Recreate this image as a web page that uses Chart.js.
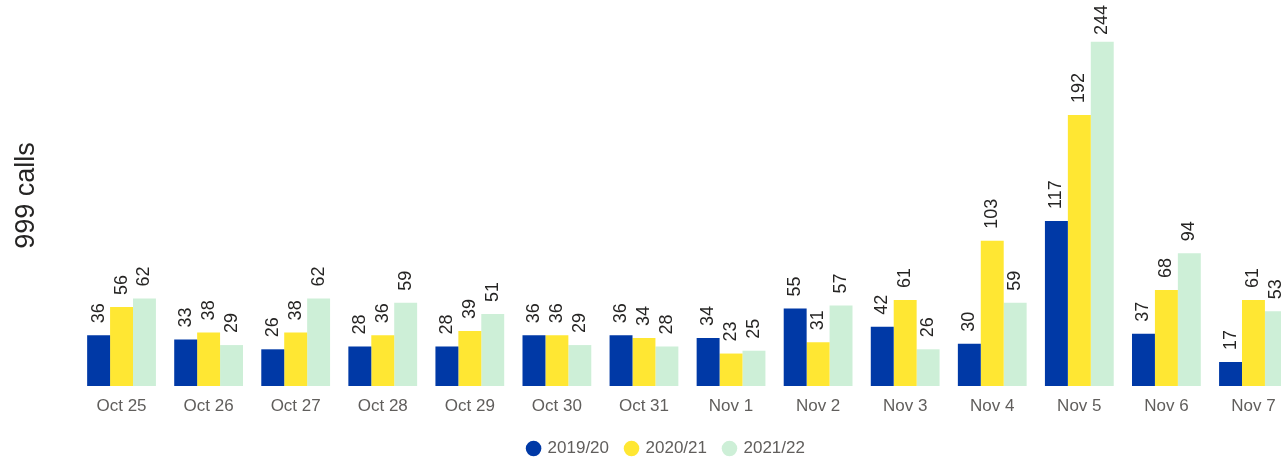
<!DOCTYPE html>
<html>
<head>
<meta charset="utf-8">
<script src="https://cdn.jsdelivr.net/npm/chart.js@4/dist/chart.umd.min.js"></script>
<style>
  html, body { margin: 0; padding: 0; background: #fff; overflow: hidden; }
  .wrap { position: relative; width: 1330px; height: 467px; }
</style>
</head>
<body>
<div class="wrap"><canvas class="graph"></canvas></div>
<script>
let days = ["Oct 25", "Oct 26", "Oct 27", "Oct 28", "Oct 29", "Oct 30", "Oct 31",
  "Nov 1", "Nov 2", "Nov 3", "Nov 4", "Nov 5", "Nov 6", "Nov 7"];
let calls1920 = [36, 33, 26, 28, 28, 36, 36, 34, 55, 42, 30, 117, 37, 17];
let calls2021 = [56, 38, 38, 36, 39, 36, 34, 23, 31, 61, 103, 192, 68, 61];
let calls2122 = [62, 29, 62, 59, 51, 29, 28, 25, 57, 26, 59, 244, 94, 53];

const font = "Arial, 'Liberation Sans', sans-serif";

// values written above each bar, turned on their side
const barLabels = {
  id: "barLabels",
  afterDatasetsDraw(chart) {
    const ctx = chart.ctx;
    ctx.save();
    ctx.font = "18px " + font;
    ctx.fillStyle = "#252423";
    ctx.textAlign = "left";
    ctx.textBaseline = "middle";
    chart.data.datasets.forEach((ds, i) => {
      chart.getDatasetMeta(i).data.forEach((bar, j) => {
        let txt = String(ds.data[j]);
        let w = ctx.measureText(txt).width;
        let y = bar.y - 12;
        if (y - w < 5) y = 5 + w;
        ctx.save();
        ctx.translate(bar.x, y);
        ctx.rotate(-Math.PI / 2);
        ctx.fillText(txt, 0, 0);
        ctx.restore();
      });
    });
    ctx.restore();
  },
};

const graph = new Chart(document.querySelector(".graph"), {
  type: "bar",
  data: {
    labels: days,
    datasets: [
      { label: "2019/20", data: calls1920, backgroundColor: "#0039A6" },
      { label: "2020/21", data: calls2021, backgroundColor: "#FFE733" },
      { label: "2021/22", data: calls2122, backgroundColor: "#CDEFD7" },
    ],
  },
  plugins: [barLabels],
  options: {
    responsive: true,
    maintainAspectRatio: false,
    animation: false,
    datasets: {
      bar: { categoryPercentage: 0.79, barPercentage: 1.0, borderWidth: 0 },
    },
    layout: { padding: { top: 5, left: 36, right: 33, bottom: 0 } },
    plugins: {
      legend: {
        position: "bottom",
        labels: {
          usePointStyle: true,
          pointStyle: "circle",
          boxWidth: 11,
          boxHeight: 11,
          padding: 17,
          color: "#605E5C",
          font: { family: font, size: 17 },
        },
      },
      tooltip: { enabled: false },
    },
    scales: {
      x: {
        grid: { display: false, drawTicks: false },
        border: { display: false },
        ticks: {
          color: "#605E5C",
          padding: 10,
          font: { family: font, size: 17 },
          maxRotation: 0,
          autoSkip: false,
        },
        afterFit(scale) {
          scale.height = 37;
        },
      },
      y: {
        min: 0,
        max: 270,
        grid: { display: false },
        border: { display: false },
        ticks: { display: false },
        title: {
          display: true,
          text: "999 calls",
          color: "#252423",
          padding: { top: -26, bottom: 0 },
          font: { family: font, size: 27 },
        },
        afterFit(scale) {
          scale.width = 42;
        },
      },
    },
  },
});
</script>
</body>
</html>
